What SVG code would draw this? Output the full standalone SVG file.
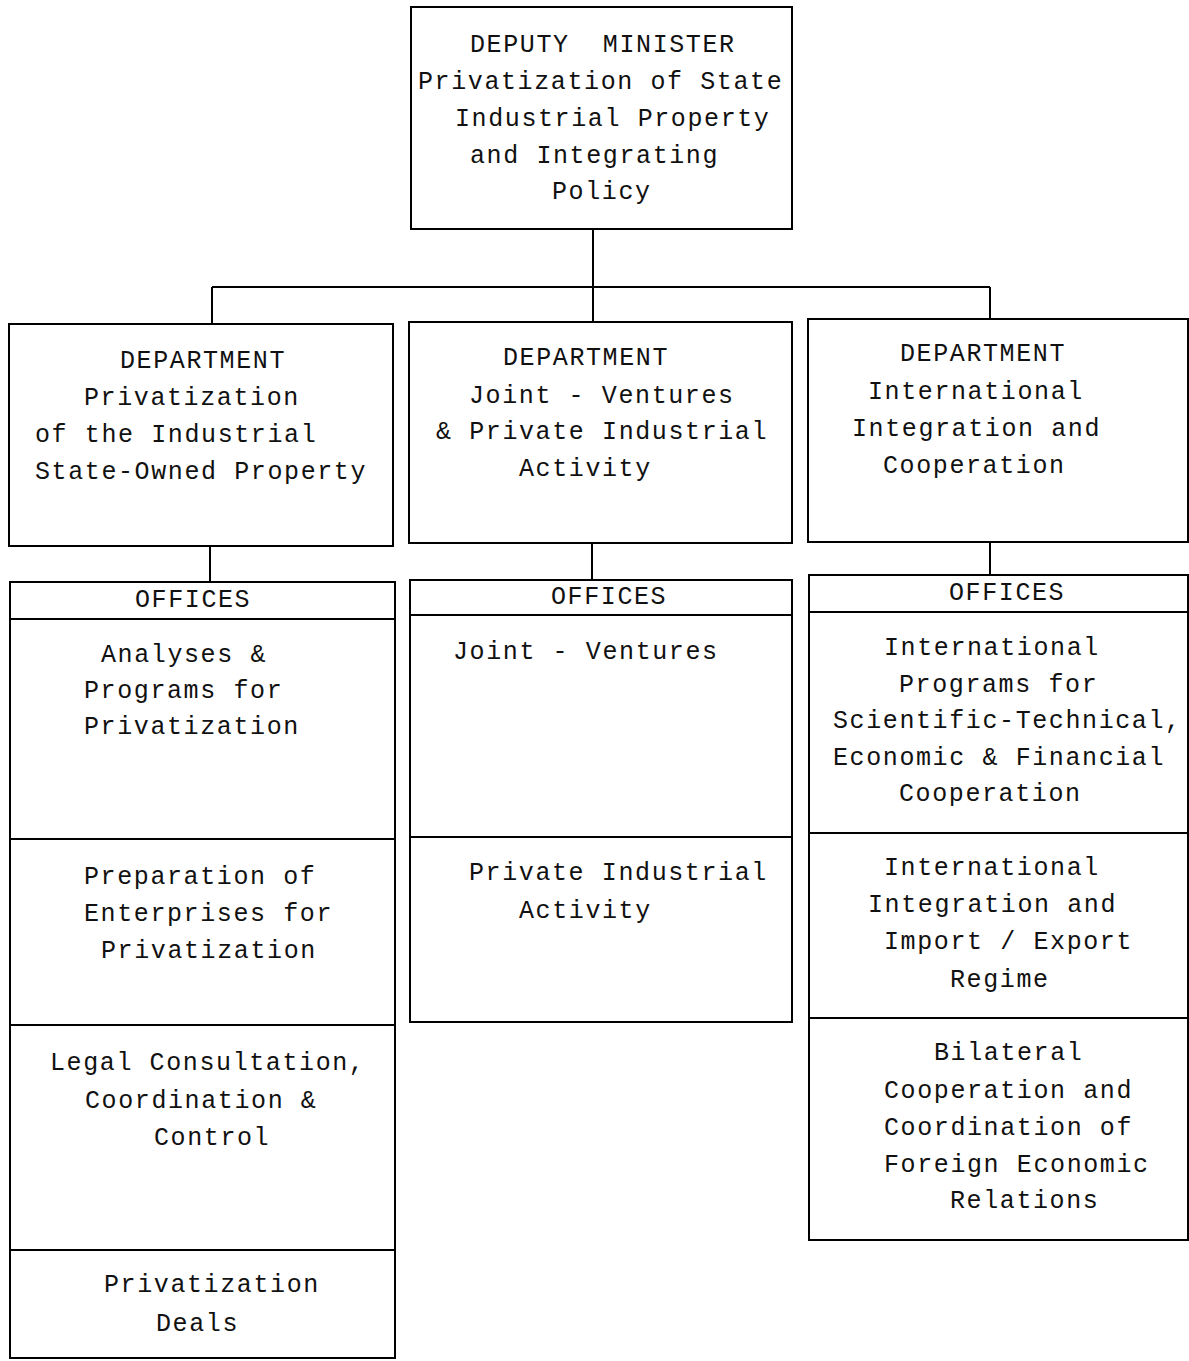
<svg xmlns="http://www.w3.org/2000/svg" width="1189" height="1361" viewBox="0 0 1189 1361">
<style>
rect.box{fill:none;stroke:#000;stroke-width:2}
line.div{stroke:#000;stroke-width:2}
#connectors path{fill:none;stroke:#000;stroke-width:2}
text{font-family:"Liberation Mono","DejaVu Sans Mono",monospace;font-size:25px;letter-spacing:1.6px;fill:#111;white-space:pre}
</style>
<rect width="1189" height="1361" fill="#fff"/>
<g id="connectors">
<path d="M593 229 V287 M212 287 H990 M212 287 V324 M990 287 V319 M593 287 V322"/>
<path d="M210 546 V582"/>
<path d="M592 543 V580"/>
<path d="M990 542 V575"/>
</g>
<g id="deputy-minister">
<rect class="box" x="411" y="7" width="381" height="222"/>
<text x="470" y="52" xml:space="preserve">DEPUTY  MINISTER</text>
<text x="418" y="89">Privatization of State</text>
<text x="455" y="126">Industrial Property</text>
<text x="470" y="163">and Integrating</text>
<text x="552" y="199">Policy</text>
</g>
<g id="dept-privatization">
<rect class="box" x="9" y="324" width="384" height="222"/>
<text x="120" y="368">DEPARTMENT</text>
<text x="84" y="405">Privatization</text>
<text x="35" y="442">of the Industrial</text>
<text x="35" y="479">State-Owned Property</text>
</g>
<g id="dept-joint-ventures">
<rect class="box" x="409" y="322" width="383" height="221"/>
<text x="503" y="365">DEPARTMENT</text>
<text x="469" y="403">Joint - Ventures</text>
<text x="436" y="439">&amp; Private Industrial</text>
<text x="519" y="476">Activity</text>
</g>
<g id="dept-international">
<rect class="box" x="808" y="319" width="380" height="223"/>
<text x="900" y="361">DEPARTMENT</text>
<text x="868" y="399">International</text>
<text x="852" y="436">Integration and</text>
<text x="883" y="473">Cooperation</text>
</g>
<g id="offices-privatization">
<rect class="box" x="10" y="582" width="385" height="776"/>
<text x="135" y="607">OFFICES</text>
<line class="div" x1="10" y1="619" x2="395" y2="619"/>
<g id="office-analyses">
<text x="101" y="662">Analyses &amp;</text>
<text x="84" y="698">Programs for</text>
<text x="84" y="734">Privatization</text>
</g>
<line class="div" x1="10" y1="839" x2="395" y2="839"/>
<g id="office-preparation">
<text x="84" y="884">Preparation of</text>
<text x="84" y="921">Enterprises for</text>
<text x="101" y="958">Privatization</text>
</g>
<line class="div" x1="10" y1="1025" x2="395" y2="1025"/>
<g id="office-legal">
<text x="50" y="1070">Legal Consultation,</text>
<text x="85" y="1108">Coordination &amp;</text>
<text x="154" y="1145">Control</text>
</g>
<line class="div" x1="10" y1="1250" x2="395" y2="1250"/>
<g id="office-deals">
<text x="104" y="1292">Privatization</text>
<text x="156" y="1331">Deals</text>
</g>
</g>
<g id="offices-joint-ventures">
<rect class="box" x="410" y="580" width="382" height="442"/>
<text x="551" y="604">OFFICES</text>
<line class="div" x1="410" y1="615" x2="792" y2="615"/>
<g id="office-joint-ventures">
<text x="453" y="659">Joint - Ventures</text>
</g>
<line class="div" x1="410" y1="837" x2="792" y2="837"/>
<g id="office-private-activity">
<text x="469" y="880">Private Industrial</text>
<text x="519" y="918">Activity</text>
</g>
</g>
<g id="offices-international">
<rect class="box" x="809" y="575" width="379" height="665"/>
<text x="949" y="600">OFFICES</text>
<line class="div" x1="809" y1="612" x2="1188" y2="612"/>
<g id="office-international-programs">
<text x="884" y="655">International</text>
<text x="899" y="692">Programs for</text>
<text x="833" y="728">Scientific-Technical,</text>
<text x="833" y="765">Economic &amp; Financial</text>
<text x="899" y="801">Cooperation</text>
</g>
<line class="div" x1="809" y1="833" x2="1188" y2="833"/>
<g id="office-import-export">
<text x="884" y="875">International</text>
<text x="868" y="912">Integration and</text>
<text x="884" y="949">Import / Export</text>
<text x="950" y="987">Regime</text>
</g>
<line class="div" x1="809" y1="1018" x2="1188" y2="1018"/>
<g id="office-bilateral">
<text x="934" y="1060">Bilateral</text>
<text x="884" y="1098">Cooperation and</text>
<text x="884" y="1135">Coordination of</text>
<text x="884" y="1172">Foreign Economic</text>
<text x="950" y="1208">Relations</text>
</g>
</g>
</svg>
